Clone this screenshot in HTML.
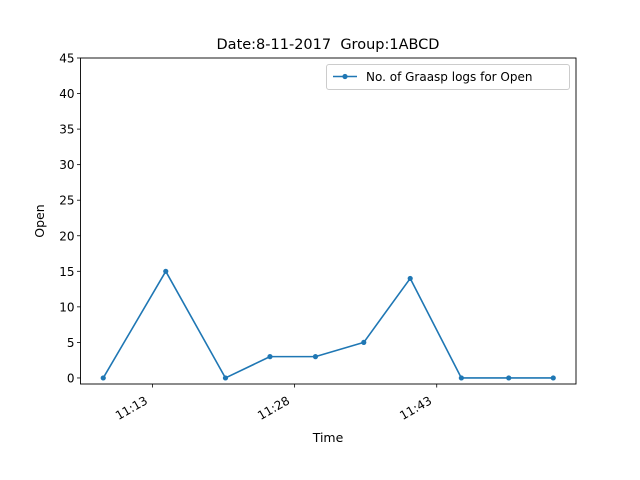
<!DOCTYPE html>
<html><head><meta charset="utf-8"><style>
html,body{margin:0;padding:0;background:#fff;}
svg{display:block;font-family:"DejaVu Sans","Liberation Sans",sans-serif;}
</style></head><body>
<svg id="chart" width="640" height="480" viewBox="0 0 640 480"></svg>
<script>
// Data: times as minutes past 11:00
const timeMinutes = [7.8, 14.4, 20.7, 25.4, 30.2, 35.3, 40.2, 45.6, 50.6, 55.3];
const openCounts = [0, 15, 0, 3, 3, 5, 14, 0, 0, 0];
const xTickMinutes = [13, 28, 43];
const xTickLabels = ["11:13", "11:28", "11:43"];
const yTicks = [0, 5, 10, 15, 20, 25, 30, 35, 40, 45];

const NS = "http://www.w3.org/2000/svg";
const svg = document.getElementById("chart");
const L = 80.5, R = 576, T = 58, B = 384;
const yMin = -0.85, yMax = 45;
const xMin = 5.4, xMax = 57.7;
function xs(m){ return L + (m - xMin) / (xMax - xMin) * (R - L); }
function ys(v){ return B - (v - yMin) / (yMax - yMin) * (B - T); }
function mk(tag, attrs, parent){
  const e = document.createElementNS(NS, tag);
  for (const k in attrs) e.setAttribute(k, attrs[k]);
  (parent || svg).appendChild(e);
  return e;
}

const title = mk("text", {x: 328, y: 49, "text-anchor": "middle", "font-size": 14.5, fill: "#000", "xml:space": "preserve", style: "white-space:pre"});
title.textContent = "Date:8-11-2017  Group:1ABCD";



// y ticks
const yAxis = mk("g", {});


yTicks.forEach(v => {
  const y = ys(v);
  mk("line", {x1: L - 3.5, x2: L, y1: y, y2: y, stroke: "#000", "stroke-width": 0.8}, yAxis);
  const t = mk("text", {x: L - 6, y: y + 4.5, "text-anchor": "end", "font-size": 12, fill: "#000"}, yAxis);
  t.textContent = v;
  
  
});

// x ticks
const xAxis = mk("g", {});


xTickMinutes.forEach((m, i) => {
  const x = xs(m);
  mk("line", {x1: x, x2: x, y1: B, y2: B + 3.5, stroke: "#000", "stroke-width": 0.8}, xAxis);
  const tx = x - 4, ty = B + 19;
  const t = mk("text", {x: tx, y: ty, "text-anchor": "end", "font-size": 12, fill: "#000",
    transform: `rotate(-30 ${tx} ${ty})`}, xAxis);
  t.textContent = xTickLabels[i];
  
  
});

const xl = mk("text", {x: 328, y: 442, "text-anchor": "middle", "font-size": 12.5, fill: "#000"});
xl.textContent = "Time";


const yl = mk("text", {x: 44, y: 221, "text-anchor": "middle", "font-size": 12.5, fill: "#000", transform: "rotate(-90 44 221)"});
yl.textContent = "Open";



// series
const pts = timeMinutes.map((m, i) => xs(m).toFixed(2) + "," + ys(openCounts[i]).toFixed(2)).join(" ");
const line = mk("polyline", {points: pts, fill: "none", stroke: "#1f77b4", "stroke-width": 1.6, "stroke-linejoin": "round"});


timeMinutes.forEach((m, i) => {
  const c = mk("circle", {cx: xs(m), cy: ys(openCounts[i]), r: 2.6, fill: "#1f77b4"});
  
  
});

// frame
const frame = mk("rect", {x: L, y: T, width: R - L, height: B - T, fill: "none", stroke: "#000", "stroke-width": 0.9});



// legend
const lg = mk("g", {});


mk("rect", {x: 326.5, y: 64.5, width: 243, height: 25, rx: 2.5, fill: "#fff", stroke: "#ccc", "stroke-width": 1}, lg);
mk("line", {x1: 333, x2: 357, y1: 76.5, y2: 76.5, stroke: "#1f77b4", "stroke-width": 1.6}, lg);
mk("circle", {cx: 345, cy: 76.5, r: 2.6, fill: "#1f77b4"}, lg);
const lt = mk("text", {x: 366, y: 81, "font-size": 12, fill: "#000"}, lg);
lt.textContent = "No. of Graasp logs for Open";


</script>
</body></html>
